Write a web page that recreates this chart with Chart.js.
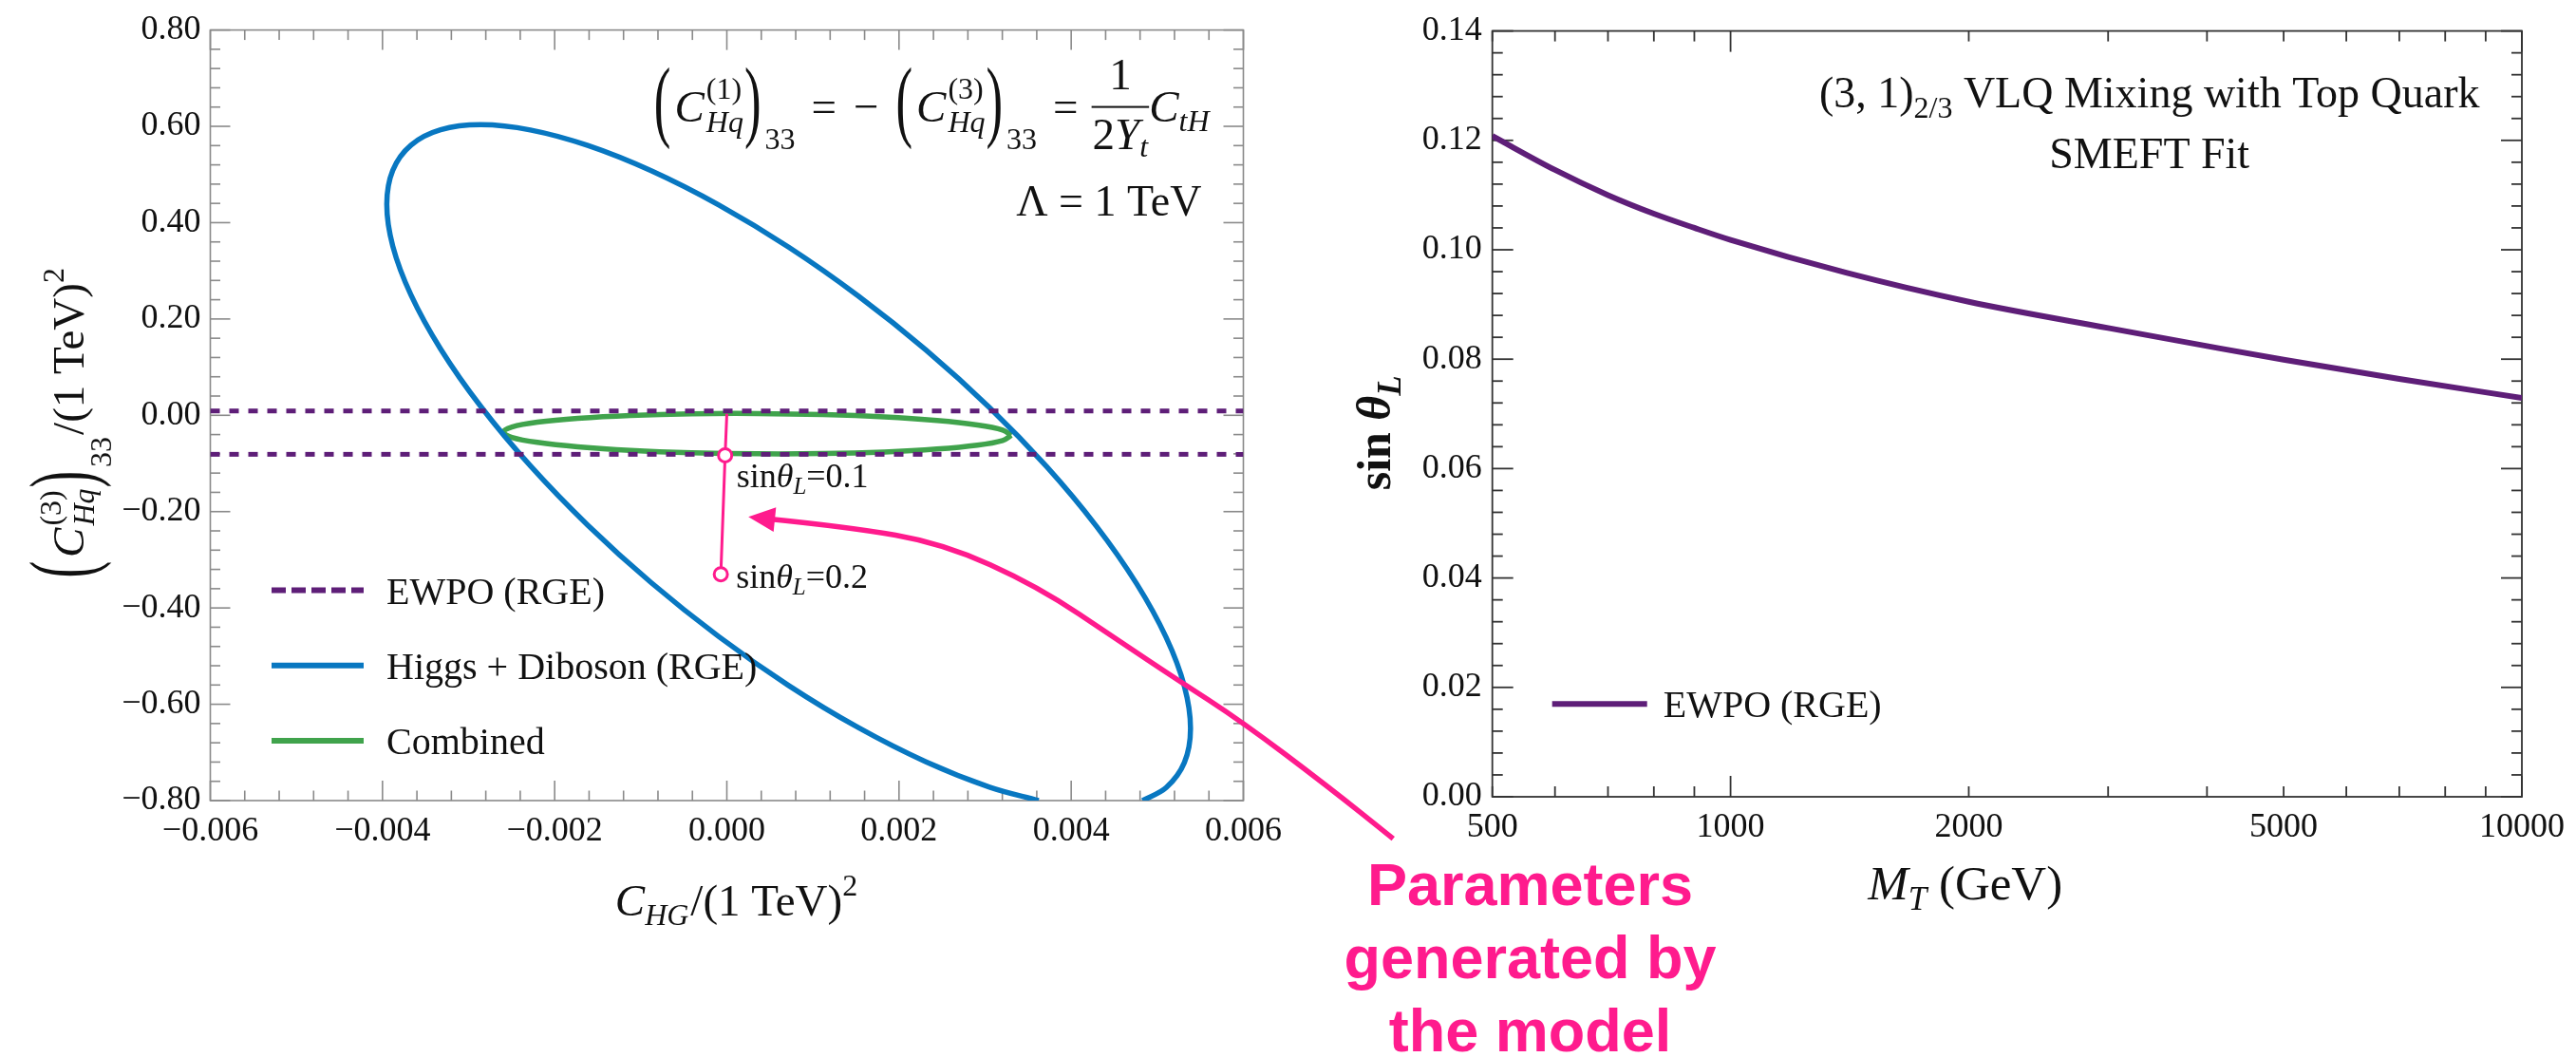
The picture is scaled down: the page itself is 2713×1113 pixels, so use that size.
<!DOCTYPE html>
<html><head><meta charset="utf-8">
<script src="https://cdn.jsdelivr.net/npm/chart.js@4.4.1/dist/chart.umd.min.js"></script>
<style>
html,body{margin:0;padding:0;background:#fff;width:2713px;height:1113px;overflow:hidden}
canvas{position:absolute;left:0;top:0}
</style></head><body>
<canvas id="leftChart" width="2713" height="1113"></canvas>
<canvas id="rightChart" width="2713" height="1113"></canvas>
<script>
// ================= DATA =================
// Left panel
const leftXTicks = [-0.006, -0.004, -0.002, 0, 0.002, 0.004, 0.006];
const leftYTicks = [-0.8, -0.6, -0.4, -0.2, 0, 0.2, 0.4, 0.6, 0.8];
const ewpoX = [-0.006, 0.006];
const ewpoUpperY = 0.009;
const ewpoLowerY = -0.081;
const higgsX = [0.003622, 0.003052, 0.002314, 0.001528, 0.000718, -0.000093, -0.000879, -0.001616, -0.002283, -0.002858, -0.003325, -0.003669, -0.003880, -0.003950, -0.003880, -0.003669, -0.003325, -0.002858, -0.002283, -0.001616, -0.000879, -0.000093, 0.000718, 0.001528, 0.002314, 0.003052, 0.003718, 0.004293, 0.004760, 0.005104, 0.005315, 0.005386, 0.005315, 0.005104, 0.004829];
const higgsY = [-0.8000, -0.7722, -0.7197, -0.6486, -0.5611, -0.4596, -0.3475, -0.2280, -0.1048, 0.0183, 0.1377, 0.2497, 0.3509, 0.4382, 0.5089, 0.5610, 0.5928, 0.6033, 0.5924, 0.5602, 0.5077, 0.4366, 0.3491, 0.2476, 0.1355, 0.0160, -0.1072, -0.2303, -0.3497, -0.4617, -0.5629, -0.6501, -0.7209, -0.7730, -0.8000];
const combinedX = [0.003305, 0.003204, 0.002910, 0.002441, 0.001830, 0.001118, 0.000354, -0.000410, -0.001121, -0.001732, -0.002201, -0.002496, -0.002597, -0.002496, -0.002201, -0.001732, -0.001121, -0.000410, 0.000354, 0.001118, 0.001830, 0.002441, 0.002910, 0.003204, 0.003305];
const combinedY = [-0.0415, -0.0522, -0.0620, -0.0701, -0.0761, -0.0795, -0.0800, -0.0777, -0.0728, -0.0654, -0.0562, -0.0458, -0.0348, -0.0241, -0.0143, -0.0062, -0.0002, 0.0032, 0.0037, 0.0014, -0.0035, -0.0109, -0.0201, -0.0305, -0.0415];
const sinThetaX = [0.0000, -0.00002, -0.00007];
const sinThetaY = [0.003, -0.083, -0.330];
const sinThetaLabels = ['', '0.1', '0.2'];
const arrowX = [0.00025, 0.00141, 0.00251, 0.00361, 0.00457, 0.0052, 0.00599, 0.00699, 0.00774];
const arrowY = [-0.211, -0.232, -0.266, -0.355, -0.470, -0.545, -0.637, -0.772, -0.879];
const noteLines = ['Parameters', 'generated by', 'the model'];
// Right panel
const rightXTicks = [500, 1000, 2000, 5000, 10000];
const rightYTicks = [0, 0.02, 0.04, 0.06, 0.08, 0.10, 0.12, 0.14];
const massT = [500, 600, 700, 800, 900, 1000, 1400, 2000, 3000, 4000, 5000, 7000, 10000];
const sinThetaL = [0.1208, 0.1146, 0.1100, 0.1066, 0.1040, 0.1018, 0.0958, 0.0905, 0.0857, 0.0824, 0.0799, 0.0764, 0.0729];

// ================= STYLE =================
const PURPLE = '#5e1e78', BLUE = '#0877c1', GREEN = '#40a34c', PINK = '#ff1b8d';
const SERIF = "'Liberation Serif', 'Times New Roman', serif";
const SANS = "'Liberation Sans', Arial, sans-serif";
const F = (size, style) => ((style ? style + ' ' : '') + size + 'px ' + SERIF);
const fmt = (v, d) => { if (Math.abs(v) < 1e-12) v = 0; return v.toFixed(d).replace('-', '\u2212'); };

// ---------- rich text helpers ----------
function runWidth(ctx, r) {
  let w;
  if (r.frac) {
    ctx.font = r.frac.numFont; const wn = ctx.measureText(r.frac.num).width;
    const wd = seqWidth(ctx, r.frac.den);
    w = Math.max(wn, wd) + 2 * (r.frac.pad || 2);
  } else if (r.stack) {
    ctx.font = r.stack.supFont; const a = ctx.measureText(r.stack.sup).width;
    ctx.font = r.stack.subFont; const b = ctx.measureText(r.stack.sub).width;
    w = Math.max(a, b);
  } else {
    ctx.font = r.font; w = ctx.measureText(r.t).width * (r.sx || 1);
  }
  return w + (r.dx || 0) + (r.dxAfter || 0);
}
function seqWidth(ctx, runs) { return runs.reduce((s, r) => s + runWidth(ctx, r), 0); }
function drawSeq(ctx, runs, x, y, align) {
  const w = seqWidth(ctx, runs);
  let cx = align === 'center' ? x - w / 2 : (align === 'right' ? x - w : x);
  ctx.textAlign = 'left'; ctx.textBaseline = 'alphabetic';
  for (const r of runs) {
    const rw = runWidth(ctx, r);
    const x0 = cx + (r.dx || 0);
    if (r.frac) {
      const inner = rw - (r.dx || 0) - (r.dxAfter || 0);
      ctx.font = r.frac.numFont;
      const wn = ctx.measureText(r.frac.num).width;
      ctx.fillText(r.frac.num, x0 + (inner - wn) / 2, y + r.frac.numDy);
      ctx.fillRect(x0, y + r.frac.barDy - 1, inner, 2);
      const wd = seqWidth(ctx, r.frac.den);
      drawSeq(ctx, r.frac.den, x0 + (inner - wd) / 2, y + r.frac.denDy, 'left');
    } else if (r.stack) {
      ctx.font = r.stack.supFont; ctx.fillText(r.stack.sup, x0, y + r.stack.supDy);
      ctx.font = r.stack.subFont; ctx.fillText(r.stack.sub, x0, y + r.stack.subDy);
    } else {
      ctx.font = r.font;
      ctx.save(); ctx.translate(x0, y + (r.dy || 0)); ctx.scale(r.sx || 1, 1);
      ctx.fillText(r.t, 0, 0); ctx.restore();
    }
    cx += rw;
  }
}
const BigP = (ch, dx) => ({ t: ch, font: F(96), sx: 0.55, dy: 9, dx: dx || 0 });
const HqStack = (n) => ({ stack: { sup: '(' + n + ')', sub: 'Hq', supFont: F(32), subFont: F(32, 'italic'), supDy: -24, subDy: 11 }, dx: 2 });

// ---------- frame + inward ticks ----------
const framePlugin = {
  id: 'frame',
  beforeDatasetsDraw(chart, args, o) {
    const { ctx, chartArea: a } = chart;
    const xs = chart.scales.x, ys = chart.scales.y;
    ctx.save();
    ctx.strokeStyle = o.color; ctx.lineWidth = o.width;
    const seg = (x1, y1, x2, y2) => { ctx.beginPath(); ctx.moveTo(x1, y1); ctx.lineTo(x2, y2); ctx.stroke(); };
    const xTick = (v, len) => { const p = xs.getPixelForValue(v); seg(p, a.bottom, p, a.bottom - len); seg(p, a.top, p, a.top + len); };
    const yTick = (v, len) => { const p = ys.getPixelForValue(v); seg(a.left, p, a.left + len, p); seg(a.right, p, a.right - len, p); };
    if (o.xLog) {
      for (let d = 100; d <= 10000; d *= 10) for (let k = 1; k <= 9; k++) {
        const v = d * k; if (v < xs.min || v > xs.max) continue;
        xTick(v, k === 1 ? o.major : o.minor);
      }
    } else {
      const n = Math.round((xs.max - xs.min) / o.xMinorStep);
      for (let i = 0; i <= n; i++) { const v = xs.min + i * o.xMinorStep; xTick(v, (i % o.xEvery === 0) ? o.major : o.minor); }
    }
    const m = Math.round((ys.max - ys.min) / o.yMinorStep);
    for (let i = 0; i <= m; i++) { const v = ys.min + i * o.yMinorStep; yTick(v, (i % o.yEvery === 0) ? o.major : o.minor); }
    ctx.strokeRect(a.left, a.top, a.right - a.left, a.bottom - a.top);
    ctx.restore();
  }
};

// ---------- left panel annotations ----------
const leftAnnot = {
  id: 'leftAnnot',
  afterDraw(chart) {
    const { ctx, chartArea: a } = chart;
    const xs = chart.scales.x, ys = chart.scales.y;
    ctx.save();
    ctx.fillStyle = '#111';
    // formula
    const formula = [
      BigP('('), { t: 'C', font: F(47, 'italic'), dx: 4 }, HqStack(1), BigP(')', 1),
      { t: '33', font: F(32), dy: 29, dx: 4 },
      { t: '=', font: F(47), dx: 17 },
      { t: '\u2212', font: F(47), dx: 18 },
      BigP('(', 18), { t: 'C', font: F(47, 'italic'), dx: 4 }, HqStack(3), BigP(')', 1),
      { t: '33', font: F(32), dy: 29, dx: 4 },
      { t: '=', font: F(47), dx: 17 },
      { frac: { num: '1', numFont: F(47), numDy: -34, barDy: -15, denDy: 29, pad: 1,
                den: [{ t: '2', font: F(47) }, { t: 'Y', font: F(47, 'italic') }, { t: 't', font: F(32, 'italic'), dy: 8 }] }, dx: 14 },
      { t: 'C', font: F(47, 'italic') }, { t: 'tH', font: F(32, 'italic'), dy: 10 }
    ];
    drawSeq(ctx, formula, a.right - 36, a.top + 96, 'right');
    ctx.font = F(46); ctx.textAlign = 'right';
    ctx.fillText('\u039B = 1 TeV', a.right - 44, a.top + 195);

    // sin theta labels
    const offs = [[0, 0], [12, 34], [16, 14]];
    sinThetaLabels.forEach((lab, i) => {
      if (!lab) return;
      const px = xs.getPixelForValue(sinThetaX[i]), py = ys.getPixelForValue(sinThetaY[i]);
      drawSeq(ctx, [{ t: 'sin', font: F(36) }, { t: '\u03B8', font: F(36, 'italic') }, { t: 'L', font: F(25, 'italic'), dy: 7 }, { t: '=' + lab, font: F(36) }],
        px + offs[i][0], py + offs[i][1], 'left');
    });

    // legend
    const items = [
      { ds: chart.data.datasets[1], dash: [15, 6] },
      { ds: chart.data.datasets[3], dash: [] },
      { ds: chart.data.datasets[4], dash: [] }
    ];
    items.forEach((it, i) => {
      const y = a.top + 590 + i * 79.2;
      ctx.save();
      ctx.strokeStyle = it.ds.borderColor; ctx.lineWidth = 6; ctx.setLineDash(it.dash);
      ctx.beginPath(); ctx.moveTo(a.left + 64.5, y); ctx.lineTo(a.left + 161.5, y); ctx.stroke();
      ctx.restore();
      ctx.font = F(40); ctx.textAlign = 'left'; ctx.fillStyle = '#111';
      ctx.fillText(it.ds.label, a.left + 185.5, y + 14);
    });

    // axis titles
    drawSeq(ctx, [{ t: 'C', font: F(47, 'italic') }, { t: 'HG', font: F(32, 'italic'), dy: 10 }, { t: '/(1 TeV)', font: F(47), dx: 2 }, { t: '2', font: F(32), dy: -21 }],
      (a.left + a.right) / 2 + 10, a.bottom + 121, 'center');
    ctx.save();
    ctx.translate(88, (a.top + a.bottom) / 2 + 8); ctx.rotate(-Math.PI / 2);
    drawSeq(ctx, [BigP('('), { t: 'C', font: F(47, 'italic'), dx: 4 }, HqStack(3), BigP(')', 1), { t: '33', font: F(32), dy: 29, dx: 4 },
      { t: '/(1 TeV)', font: F(47), dx: 2 }, { t: '2', font: F(32), dy: -21 }], 0, 0, 'center');
    ctx.restore();

    // pink arrow
    const P = arrowX.map((x, i) => [xs.getPixelForValue(x), ys.getPixelForValue(arrowY[i])]);
    const tip = P[0];
    const dxv = P[1][0] - tip[0], dyv = P[1][1] - tip[1];
    const L = Math.hypot(dxv, dyv), ux = dxv / L, uy = dyv / L;
    const headLen = 28, headW = 13;
    const base = [tip[0] + ux * headLen * 0.8, tip[1] + uy * headLen * 0.8];
    const pts = [base].concat(P.slice(1));
    ctx.strokeStyle = PINK; ctx.fillStyle = PINK; ctx.lineWidth = 5.5; ctx.lineCap = 'butt';
    ctx.beginPath(); ctx.moveTo(pts[0][0], pts[0][1]);
    for (let i = 1; i < pts.length - 1; i++) {
      const mx = (pts[i][0] + pts[i + 1][0]) / 2, my = (pts[i][1] + pts[i + 1][1]) / 2;
      ctx.quadraticCurveTo(pts[i][0], pts[i][1], mx, my);
    }
    ctx.lineTo(pts[pts.length - 1][0], pts[pts.length - 1][1]);
    ctx.stroke();
    ctx.beginPath();
    ctx.moveTo(tip[0], tip[1]);
    ctx.lineTo(tip[0] + ux * headLen - uy * headW, tip[1] + uy * headLen + ux * headW);
    ctx.lineTo(tip[0] + ux * headLen + uy * headW, tip[1] + uy * headLen - ux * headW);
    ctx.closePath(); ctx.fill();

    // pink note
    ctx.font = 'bold 63px ' + SANS; ctx.textAlign = 'center'; ctx.fillStyle = PINK;
    noteLines.forEach((s, i) => ctx.fillText(s, a.right + 302, a.bottom + 110 + i * 77));
    ctx.restore();
  }
};

// ---------- right panel annotations ----------
const rightAnnot = {
  id: 'rightAnnot',
  afterDraw(chart) {
    const { ctx, chartArea: a } = chart;
    ctx.save(); ctx.fillStyle = '#111';
    drawSeq(ctx, [{ t: '(3, 1)', font: F(46) }, { t: '2/3', font: F(32), dy: 11 }, { t: ' VLQ Mixing with Top Quark', font: F(46) }],
      a.left + 692, a.top + 80, 'center');
    drawSeq(ctx, [{ t: 'SMEFT Fit', font: F(46) }], a.left + 692, a.top + 144, 'center');
    // legend
    const ds = chart.data.datasets[0];
    const y = a.top + 708.7;
    ctx.strokeStyle = ds.borderColor; ctx.lineWidth = 6;
    ctx.beginPath(); ctx.moveTo(a.left + 63, y); ctx.lineTo(a.left + 163, y); ctx.stroke();
    ctx.font = F(40); ctx.textAlign = 'left'; ctx.fillText(ds.label, a.left + 180, y + 14);
    // axis titles
    drawSeq(ctx, [{ t: 'M', font: F(51, 'italic') }, { t: 'T', font: F(35, 'italic'), dy: 11 }, { t: ' (GeV)', font: F(51) }],
      a.left + 498, a.bottom + 108, 'center');
    ctx.save();
    ctx.translate(a.left - 108, (a.top + a.bottom) / 2 + 20); ctx.rotate(-Math.PI / 2);
    drawSeq(ctx, [{ t: 'sin ', font: F(50, 'bold') }, { t: '\u03B8', font: F(50, 'bold italic') }, { t: 'L', font: F(35, 'bold italic'), dy: 11 }], 0, 0, 'center');
    ctx.restore();
    ctx.restore();
  }
};

const tickFont = { family: SERIF, size: 36 };

// ================= LEFT CHART =================
new Chart(document.getElementById('leftChart'), {
  type: 'scatter',
  data: {
    datasets: [
      { label: 'sin', data: sinThetaX.map((x, i) => ({ x, y: sinThetaY[i] })), showLine: true, borderColor: PINK, borderWidth: 3,
        pointRadius: sinThetaLabels.map(l => l ? 7 : 0), pointBorderWidth: 3, pointBackgroundColor: '#fff', pointBorderColor: PINK, tension: 0 },
      { label: 'EWPO (RGE)', data: ewpoX.map(x => ({ x, y: ewpoUpperY })), showLine: true, borderColor: PURPLE, borderWidth: 5, borderDash: [10, 10], pointRadius: 0 },
      { label: 'EWPO (RGE) lower', data: ewpoX.map(x => ({ x, y: ewpoLowerY })), showLine: true, borderColor: PURPLE, borderWidth: 5, borderDash: [10, 10], pointRadius: 0 },
      { label: 'Higgs + Diboson (RGE)', data: higgsX.map((x, i) => ({ x, y: higgsY[i] })), showLine: true, borderColor: BLUE, borderWidth: 5.5, tension: 0.35, pointRadius: 0 },
      { label: 'Combined', data: combinedX.map((x, i) => ({ x, y: combinedY[i] })), showLine: true, borderColor: GREEN, borderWidth: 5.5, tension: 0.35, pointRadius: 0 }
    ]
  },
  options: {
    responsive: false, animation: false, devicePixelRatio: 1,
    layout: { padding: { left: 0, top: 29.3, right: 1403.5, bottom: 170 } },
    plugins: {
      legend: { display: false }, tooltip: { enabled: false },
      frame: { color: '#8a8a8a', width: 1.6, major: 21, minor: 10.5, xMinorStep: 0.0004, xEvery: 5, yMinorStep: 0.04, yEvery: 5 }
    },
    scales: {
      x: { type: 'linear', min: -0.006, max: 0.006,
        afterBuildTicks: s => { s.ticks = leftXTicks.map(v => ({ value: v })); },
        afterFit: s => { s.height = 100; },
        grid: { display: false, drawTicks: false }, border: { display: false },
        ticks: { font: tickFont, color: '#111', padding: 11, maxRotation: 0, autoSkip: false, callback: v => fmt(v, 3) } },
      y: { type: 'linear', min: -0.8, max: 0.8,
        afterBuildTicks: s => { s.ticks = leftYTicks.map(v => ({ value: v })); },
        afterFit: s => { s.width = 221.5; },
        grid: { display: false, drawTicks: false }, border: { display: false },
        ticks: { font: tickFont, color: '#111', padding: 10, autoSkip: false, callback: v => fmt(v, 2) } }
    }
  },
  plugins: [framePlugin, leftAnnot]
});

// ================= RIGHT CHART =================
new Chart(document.getElementById('rightChart'), {
  type: 'scatter',
  data: {
    datasets: [
      { label: 'EWPO (RGE)', data: massT.map((m, i) => ({ x: m, y: sinThetaL[i] })), showLine: true, borderColor: PURPLE, borderWidth: 6,
        cubicInterpolationMode: 'monotone', pointRadius: 0 }
    ]
  },
  options: {
    responsive: false, animation: false, devicePixelRatio: 1,
    layout: { padding: { left: 1421.7, top: 27, right: 57, bottom: 174 } },
    plugins: {
      legend: { display: false }, tooltip: { enabled: false },
      frame: { color: '#333', width: 1.8, major: 22, minor: 11, xLog: true, yMinorStep: 0.004, yEvery: 5 }
    },
    scales: {
      x: { type: 'logarithmic', min: 500, max: 10000,
        afterBuildTicks: s => { s.ticks = rightXTicks.map(v => ({ value: v })); },
        afterFit: s => { s.height = 100; },
        grid: { display: false, drawTicks: false }, border: { display: false },
        ticks: { font: tickFont, color: '#111', padding: 11, maxRotation: 0, autoSkip: false, callback: v => String(v) } },
      y: { type: 'linear', min: 0, max: 0.14,
        afterBuildTicks: s => { s.ticks = rightYTicks.map(v => ({ value: v })); },
        afterFit: s => { s.width = 150; },
        grid: { display: false, drawTicks: false }, border: { display: false },
        ticks: { font: tickFont, color: '#111', padding: 11, autoSkip: false, callback: v => fmt(v, 2) } }
    }
  },
  plugins: [framePlugin, rightAnnot]
});
</script>
</body></html>
